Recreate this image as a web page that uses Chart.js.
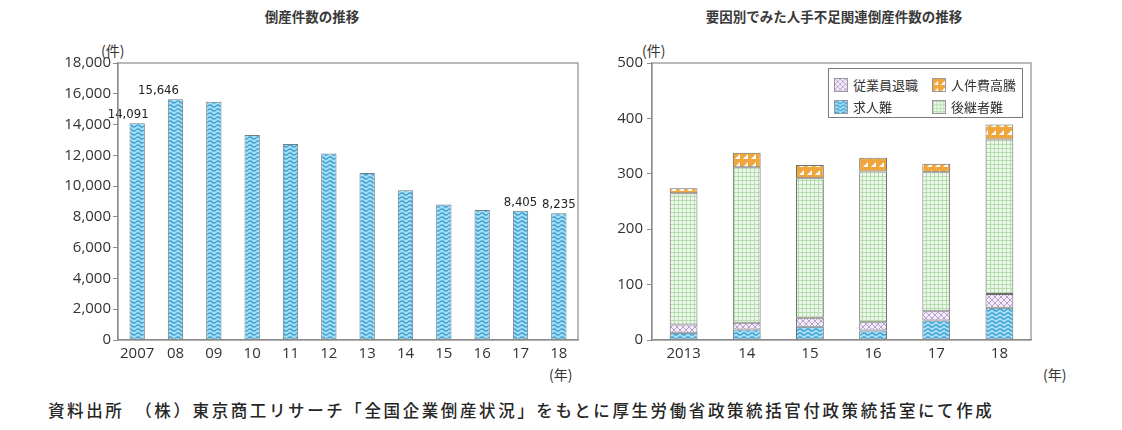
<!DOCTYPE html>
<html lang="ja">
<head>
<meta charset="utf-8">
<script src="https://cdn.jsdelivr.net/npm/chart.js@4.4.1/dist/chart.umd.min.js"></script>
<style>
  body { margin: 0; width: 1122px; height: 430px; background: #fff; position: relative; overflow: hidden;
         font-family: "Noto Sans CJK JP", "Noto Sans", sans-serif; color: #333; }
  .abs { position: absolute; white-space: nowrap; }
  .title { font-size: 13.5px; font-weight: bold; transform: translateX(-50%); top: 6px; color: #3a3a3a; }
  .unit { font-size: 14px; }
  .legend { position: absolute; left: 828px; top: 68px; width: 193px; height: 48px; border: 1px solid #7a7a7a;
            background: #fff; font-size: 13px; }
  .legend .item { position: absolute; display: flex; align-items: center; }
  .legend canvas { width: 14px; height: 14px; border: 1px solid #999; margin-right: 5px; box-sizing: border-box; }
  .note { font-size: 16.5px; font-weight: 500; letter-spacing: 2.6px; left: 48px; top: 398px; color: #262626; }
</style>
</head>
<body>
<div class="abs title" style="left:312px">倒産件数の推移</div>
<div class="abs title" style="left:834px">要因別でみた人手不足関連倒産件数の推移</div>
<div class="abs unit" style="left:101px;top:40px">(件)</div>
<div class="abs unit" style="left:642px;top:40px">(件)</div>
<div class="abs unit" style="left:549px;top:364px">(年)</div>
<div class="abs unit" style="left:1043px;top:364px">(年)</div>

<div class="abs" style="left:0;top:0;width:590px;height:390px"><canvas id="chart1"></canvas></div>
<div class="abs" style="left:590px;top:0;width:532px;height:390px"><canvas id="chart2"></canvas></div>

<div class="legend">
  <div class="item" style="left:5px;top:6px"><canvas id="sw0" width="14" height="14"></canvas>従業員退職</div>
  <div class="item" style="left:103px;top:6px"><canvas id="sw1" width="14" height="14"></canvas>人件費高騰</div>
  <div class="item" style="left:5px;top:28px"><canvas id="sw2" width="14" height="14"></canvas>求人難</div>
  <div class="item" style="left:103px;top:28px"><canvas id="sw3" width="14" height="14"></canvas>後継者難</div>
</div>

<div class="abs note">資料出所　（株）東京商工リサーチ「全国企業倒産状況」をもとに厚生労働省政策統括官付政策統括室にて作成</div>

<script>
// left chart: 倒産件数の推移
const years = ['2007', '08', '09', '10', '11', '12', '13', '14', '15', '16', '17', '18'];
const bankruptcies = [14091, 15646, 15480, 13321, 12734, 12124, 10855, 9731, 8812, 8446, 8405, 8235];
const labeledYears = ['2007', '08', '17', '18'];

// right chart: 要因別でみた人手不足関連倒産件数の推移
const factorYears = ['2013', '14', '15', '16', '17', '18'];
const recruitHard = [13, 19, 24, 17, 35, 58];          // 求人難
const staffQuit = [15, 12, 16, 15, 17, 25];            // 従業員退職
const successorHard = [237, 281, 252, 272, 251, 279];  // 後継者難
const laborCostUp = [9, 26, 24, 25, 15, 27];           // 人件費高騰

const tickFont = { family: '"Open Sans", "Noto Sans", sans-serif', size: 15 };
const axisColor = '#8c8c8c';

// pattern tiles for the hatched bar fills
const makeTile = (w, h, draw) => {
    const c = document.createElement('canvas');
    c.width = w; c.height = h;
    draw(c.getContext('2d'), w, h);
    return c;
};

const tiles = {
    wave: makeTile(8, 8, (g, w, h) => {
        g.fillStyle = '#a8dcf2'; g.fillRect(0, 0, w, h);
        g.strokeStyle = '#2a9bd3'; g.lineWidth = 1.2;
        [2, 6].forEach(y => {
            g.beginPath(); g.moveTo(0, y);
            g.quadraticCurveTo(2, y - 2.2, 4, y); g.quadraticCurveTo(6, y + 2.2, 8, y);
            g.stroke();
        });
    }),
    cross: makeTile(6, 6, (g, w, h) => {
        g.fillStyle = '#f3ecf8'; g.fillRect(0, 0, w, h);
        g.strokeStyle = '#b79fd0'; g.lineWidth = 1;
        g.beginPath(); g.moveTo(0, 0); g.lineTo(6, 6); g.moveTo(6, 0); g.lineTo(0, 6); g.stroke();
    }),
    grid: makeTile(4, 4, (g, w, h) => {
        g.fillStyle = '#eef7eb'; g.fillRect(0, 0, w, h);
        g.fillStyle = '#b3dbab'; g.fillRect(0, 0, w, 1); g.fillRect(0, 0, 1, h);
    }),
    orange: makeTile(8, 8, (g, w, h) => {
        g.fillStyle = '#f0a63a'; g.fillRect(0, 0, w, h);
        g.fillStyle = '#fff';
        g.beginPath(); g.moveTo(1, 7); g.lineTo(6, 7); g.lineTo(6, 2); g.closePath(); g.fill();
    })
};
const tmp = document.createElement('canvas').getContext('2d');
const pat = {};
Object.keys(tiles).forEach(k => { pat[k] = tmp.createPattern(tiles[k], 'repeat'); });

// outline around the plot area
const frame = {
    id: 'frame',
    afterDraw(chart) {
        const { left, top, right, bottom } = chart.chartArea;
        const ctx = chart.ctx;
        ctx.save();
        ctx.strokeStyle = axisColor;
        ctx.lineWidth = 1.2;
        ctx.strokeRect(left, top, right - left, bottom - top);
        ctx.restore();
    }
};

// value labels above a few bars of the left chart
const barLabels = {
    id: 'barLabels',
    afterDatasetsDraw(chart, args, opts) {
        const meta = chart.getDatasetMeta(0);
        const ctx = chart.ctx;
        ctx.save();
        ctx.font = '13px "Liberation Sans Narrow", "DejaVu Sans Condensed", sans-serif';
        ctx.fillStyle = '#222';
        ctx.textAlign = 'center';
        ctx.textBaseline = 'bottom';
        chart.data.labels.forEach((lab, i) => {
            if (!labeledYears.includes(lab)) return;
            const bar = meta.data[i];
            ctx.fillText(bankruptcies[i].toLocaleString('en-US'), bar.x + (opts.dx[i] || 0), bar.y - 2);
        });
        ctx.restore();
    }
};

const baseScales = (yMax, yStep, yWidth, fmt) => ({
    x: {
        grid: { display: false, drawTicks: false },
        border: { color: axisColor, width: 1.2 },
        ticks: { color: '#333', font: tickFont, padding: 5, maxRotation: 0, autoSkip: false },
        afterFit: s => { s.height = 50; }
    },
    y: {
        min: 0, max: yMax,
        grid: { display: true, drawOnChartArea: false, drawTicks: true, tickLength: 5, color: axisColor },
        border: { color: axisColor, width: 1.2 },
        ticks: { stepSize: yStep, color: '#333', font: tickFont, padding: 2, callback: fmt },
        afterFit: s => { s.width = yWidth; }
    }
});

new Chart(document.getElementById('chart1'), {
    type: 'bar',
    data: {
        labels: years,
        datasets: [{
            label: '倒産件数',
            data: bankruptcies,
            backgroundColor: pat.wave,
            borderColor: '#6e7f88',
            borderWidth: 1,
            borderSkipped: false,
            barPercentage: 0.4,
            categoryPercentage: 1
        }]
    },
    options: {
        responsive: true,
        maintainAspectRatio: false,
        animation: false,
        layout: { padding: { top: 63, right: 12, bottom: 0, left: 0 } },
        plugins: {
            legend: { display: false },
            tooltip: { enabled: false },
            barLabels: { dx: { 0: -9, 1: -17 } }
        },
        scales: baseScales(18000, 2000, 118, v => v.toLocaleString('en-US'))
    },
    plugins: [frame, barLabels]
});

const stackSet = (label, data, fill) => ({
    label, data,
    backgroundColor: fill,
    borderColor: '#6d6d6d',
    borderWidth: 1,
    borderSkipped: false,
    barPercentage: 0.44,
    categoryPercentage: 1
});

new Chart(document.getElementById('chart2'), {
    type: 'bar',
    data: {
        labels: factorYears,
        datasets: [
            stackSet('求人難', recruitHard, pat.wave),
            stackSet('従業員退職', staffQuit, pat.cross),
            stackSet('後継者難', successorHard, pat.grid),
            stackSet('人件費高騰', laborCostUp, pat.orange)
        ]
    },
    options: {
        responsive: true,
        maintainAspectRatio: false,
        animation: false,
        layout: { padding: { top: 63, right: 91, bottom: 0, left: 0 } },
        plugins: { legend: { display: false }, tooltip: { enabled: false } },
        scales: (() => {
            const s = baseScales(500, 100, 62, v => v);
            s.x.stacked = true;
            s.y.stacked = true;
            s.y.ticks.padding = 4;
            return s;
        })()
    },
    plugins: [frame]
});

// legend swatches
['cross', 'orange', 'wave', 'grid'].forEach((k, i) => {
    const g = document.getElementById('sw' + i).getContext('2d');
    g.fillStyle = pat[k];
    g.fillRect(0, 0, 14, 14);
});
</script>
</body>
</html>
